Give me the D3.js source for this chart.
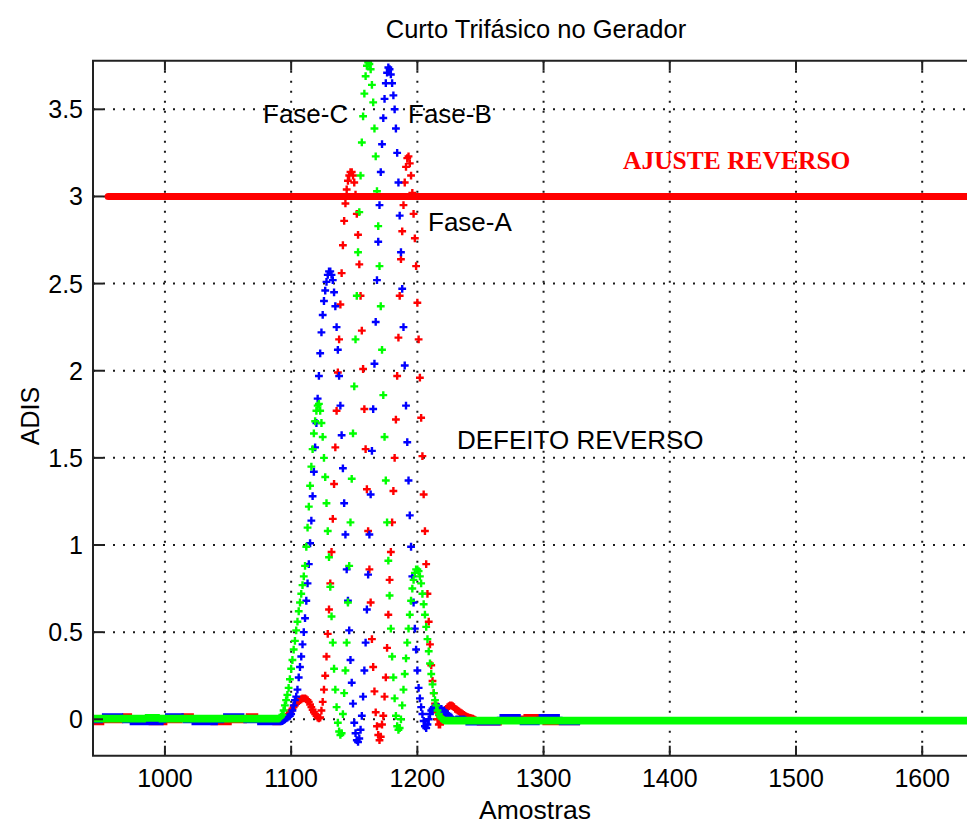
<!DOCTYPE html>
<html>
<head>
<meta charset="utf-8">
<script src="https://cdn.jsdelivr.net/npm/d3@7"></script>
<style>
  body { margin: 0; background: #fff; }
  svg text { font-family: "Liberation Sans", Arial, Helvetica, sans-serif; fill: #000; }
</style>
</head>
<body>
<svg id="grafico" width="967" height="825"></svg>
<script>
// ---- dados ----------------------------------------------------------------
const titulo = "Curto Trifásico no Gerador";
const rotuloX = "Amostras";
const rotuloY = "ADIS";
const ticksX = [1000, 1100, 1200, 1300, 1400, 1500, 1600];
const ticksY = [0, 0.5, 1, 1.5, 2, 2.5, 3, 3.5];

// limiar de ajuste reverso
const ajusteReverso = 3;
const inicioAjuste = 955;

// trechos em repouso: [amostra inicial, amostra final, valor]
const repousoAntesA = [[943, 951, -0.012], [952, 966, 0], [967, 973, 0.012], [974, 987, 0], [988, 1001, -0.012],
  [1002, 1013, 0], [1014, 1022, 0.012], [1023, 1036, 0], [1037, 1052, -0.012], [1053, 1064, 0],
  [1065, 1073, 0.012], [1074, 1085, 0], [1086, 1089, -0.012]];
const repousoAntesB = [[943, 950, 0], [951, 966, 0.012], [967, 972, 0], [973, 998, -0.012], [999, 1000, 0],
  [1001, 1014, 0.012], [1015, 1021, 0], [1022, 1041, -0.012], [1042, 1046, 0], [1047, 1062, 0.012],
  [1063, 1073, 0], [1074, 1089, -0.012]];
const repousoAntesC = [[943, 984, 0.004], [985, 995, 0.008], [996, 1089, 0.004]];

const repousoDepoisA = [[1251, 1266, -0.014], [1267, 1284, 0], [1285, 1299, 0.008], [1300, 1328, -0.012]];
const repousoDepoisB = [[1251, 1265, -0.014], [1266, 1281, 0.008], [1282, 1296, -0.012], [1297, 1312, 0.008], [1313, 1328, -0.012]];
const repousoDepoisC = [[1251, 1650, -0.008]];

// transitório do curto, uma amostra por valor a partir de 1090
const inicioTransitorio = 1090;
const faseA = [
  -0.012, -0.012, -0.01, -0.005, 0, 0.005, 0.01, 0.02, 0.03, 0.04,
  0.05, 0.06, 0.07, 0.08, 0.09, 0.10, 0.105, 0.11, 0.115, 0.12,
  0.12, 0.12, 0.115, 0.11, 0.10, 0.085, 0.07, 0.055, 0.04, 0.03,
  0.02, 0.01, 0.005, 0.01, 0.05, 0.10, 0.17, 0.25, 0.36, 0.49,
  0.63, 0.78, 0.96, 1.15, 1.35, 1.56, 1.77, 1.99, 2.18, 2.38,
  2.56, 2.72, 2.86, 2.96, 3.04, 3.09, 3.12, 3.14, 3.14, 3.12,
  3.08, 3.01, 2.90, 2.78, 2.61, 2.43, 2.23, 2.01, 1.78, 1.55,
  1.32, 1.08, 0.86, 0.67, 0.46, 0.30, 0.16, 0.04, -0.04, -0.09,
  -0.12, -0.10, -0.03, 0.02, 0.13, 0.24, 0.41, 0.60, 0.80, 0.96,
  1.13, 1.31, 1.50, 1.72, 1.97, 2.19, 2.43, 2.64, 2.80, 2.95,
  3.08, 3.17, 3.22, 3.23, 3.19, 3.12, 3.02, 2.90, 2.76, 2.60,
  2.39, 2.18, 1.96, 1.73, 1.51, 1.29, 1.08, 0.89, 0.72, 0.56,
  0.43, 0.31, 0.22, 0.15, 0.09, 0.04, 0, -0.03, -0.03, -0.01,
  0.01, 0.03, 0.045, 0.06, 0.07, 0.075, 0.08, 0.08, 0.075, 0.07,
  0.06, 0.055, 0.05, 0.045, 0.04, 0.035, 0.03, 0.025, 0.02, 0.015,
  0.012, 0.01, 0.008, 0.005, 0.003, 0, -0.005, -0.01, -0.014, -0.014,
  -0.014
];
const faseB = [
  -0.012, -0.012, -0.012, -0.01, -0.005, 0, 0.005, 0.01, 0.015, 0.02,
  0.03, 0.05, 0.08, 0.11, 0.13, 0.17, 0.24, 0.30, 0.36, 0.43,
  0.50, 0.58, 0.68, 0.78, 0.89, 1.01, 1.14, 1.28, 1.42, 1.56,
  1.70, 1.84, 1.97, 2.10, 2.22, 2.32, 2.40, 2.46, 2.51, 2.55,
  2.57, 2.57, 2.55, 2.52, 2.45, 2.37, 2.25, 2.12, 1.97, 1.80,
  1.63, 1.44, 1.24, 1.06, 0.86, 0.68, 0.51, 0.34, 0.21, 0.09,
  -0.02, -0.08, -0.12, -0.13, -0.11, -0.06, 0.02, 0.13, 0.28, 0.44,
  0.63, 0.83, 1.06, 1.29, 1.54, 1.78, 2.04, 2.28, 2.52, 2.74,
  2.95, 3.14, 3.30, 3.45, 3.56, 3.65, 3.71, 3.74, 3.73, 3.70,
  3.65, 3.58, 3.50, 3.39, 3.25, 3.08, 2.89, 2.68, 2.47, 2.25,
  2.03, 1.80, 1.59, 1.37, 1.17, 0.99, 0.82, 0.67, 0.52, 0.40,
  0.28, 0.18, 0.12, 0.07, 0.03, -0.01, -0.04, -0.05, -0.03, 0,
  0.03, 0.05, 0.06, 0.07, 0.07, 0.07, 0.07, 0.07, 0.06, 0.06,
  0.05, 0.05, 0.04, 0.03, 0.03, 0.02, 0.01, 0.01, 0, -0.005,
  -0.005, 0, 0, 0, 0, 0, 0, 0, -0.005, -0.014,
  -0.014, -0.014, -0.014, -0.014, -0.014, -0.014, -0.014, -0.014, -0.014, -0.014,
  -0.014
];
const faseC = [
  0.004, 0.008, 0.015, 0.025, 0.05, 0.08, 0.11, 0.14, 0.18, 0.23,
  0.29, 0.34, 0.40, 0.45, 0.51, 0.56, 0.62, 0.67, 0.72, 0.77,
  0.82, 0.88, 0.99, 1.10, 1.22, 1.34, 1.45, 1.55, 1.64, 1.71,
  1.77, 1.80, 1.81, 1.77, 1.70, 1.62, 1.50, 1.39, 1.24, 1.08,
  0.93, 0.76, 0.59, 0.44, 0.29, 0.17, 0.07, -0.02, -0.07, -0.09,
  -0.08, 0.03, 0.15, 0.28, 0.44, 0.67, 0.88, 1.13, 1.38, 1.64,
  1.91, 2.18, 2.43, 2.68, 2.91, 3.12, 3.31, 3.46, 3.59, 3.69,
  3.75, 3.77, 3.76, 3.73, 3.64, 3.54, 3.39, 3.23, 3.03, 2.83,
  2.60, 2.37, 2.12, 1.86, 1.62, 1.37, 1.13, 0.91, 0.71, 0.52,
  0.36, 0.24, 0.12, 0.02, -0.04, -0.06, -0.05, 0, 0.08, 0.17,
  0.26, 0.35, 0.44, 0.52, 0.60, 0.68, 0.75, 0.80, 0.84, 0.86,
  0.86, 0.85, 0.82, 0.78, 0.72, 0.66, 0.60, 0.53, 0.46, 0.39,
  0.32, 0.26, 0.20, 0.15, 0.11, 0.08, 0.05, 0.03, 0.015, 0.005,
  0, -0.005, -0.008, -0.008, -0.008, -0.008, -0.008, -0.008, -0.008, -0.008,
  -0.008, -0.008, -0.008, -0.008, -0.008, -0.008, -0.008, -0.008, -0.008, -0.008,
  -0.008, -0.008, -0.008, -0.008, -0.008, -0.008, -0.008, -0.008, -0.008, -0.008,
  -0.008
];

const fases = [
  { nome: "Fase-A", cor: "#ff0000", antes: repousoAntesA, valores: faseA, depois: repousoDepoisA },
  { nome: "Fase-B", cor: "#0000ff", antes: repousoAntesB, valores: faseB, depois: repousoDepoisB },
  { nome: "Fase-C", cor: "#00ff00", antes: repousoAntesC, valores: faseC, depois: repousoDepoisC }
];

// ---- layout ---------------------------------------------------------------
const area = { esq: 93, dir: 979, topo: 60.7, base: 755.7 };
const x = d3.scaleLinear().domain([943, 1645]).range([area.esq, area.dir]);
const y = d3.scaleLinear().domain([-0.209, 3.779]).range([area.base, area.topo]);

const svg = d3.select("#grafico");
svg.append("rect").attr("width", 967).attr("height", 825).attr("fill", "#fff");

svg.append("defs").append("clipPath").attr("id", "recorte")
  .append("rect")
  .attr("x", area.esq).attr("y", area.topo)
  .attr("width", area.dir - area.esq).attr("height", area.base - area.topo);

// grade pontilhada
const grade = svg.append("g").attr("stroke", "#1a1a1a").attr("stroke-width", 2).attr("stroke-dasharray", "2 8");
grade.selectAll("line.v").data(ticksX).join("line").attr("class", "v")
  .attr("x1", d => x(d)).attr("x2", d => x(d))
  .attr("y1", area.topo).attr("y2", area.base);
grade.selectAll("line.h").data(ticksY).join("line").attr("class", "h")
  .attr("x1", area.esq).attr("x2", area.dir)
  .attr("y1", d => y(d)).attr("y2", d => y(d));

// pontos das três fases, marcador "+" em cada amostra
function pontosDaFase(f) {
  const pts = [];
  f.antes.forEach(([a, b, v]) => { for (let n = a; n <= b; n++) pts.push([n, v]); });
  f.valores.forEach((v, i) => pts.push([inicioTransitorio + i, v]));
  f.depois.forEach(([a, b, v]) => { for (let n = a; n <= b; n++) pts.push([n, v]); });
  return pts;
}
const meio = 3.9;
const plot = svg.append("g").attr("clip-path", "url(#recorte)");
fases.forEach(f => {
  const d = pontosDaFase(f).map(([n, v]) => {
    const px = x(n), py = y(v);
    return `M${px - meio},${py}H${px + meio}M${px},${py - meio}V${py + meio}`;
  }).join("");
  plot.append("path").attr("d", d).attr("fill", "none")
    .attr("stroke", f.cor).attr("stroke-width", 2.4);
});

// linha de ajuste reverso
plot.append("line")
  .attr("x1", x(inicioAjuste)).attr("x2", x(1700))
  .attr("y1", y(ajusteReverso)).attr("y2", y(ajusteReverso))
  .attr("stroke", "#ff0000").attr("stroke-width", 7).attr("stroke-linecap", "round");

// moldura e marcas dos eixos
const eixo = svg.append("g").attr("stroke", "#222").attr("stroke-width", 2).attr("fill", "none");
eixo.append("path").attr("d", `M${area.dir + 5},${area.topo}H${area.esq}V${area.base}H${area.dir + 5}`);
ticksX.forEach(t => {
  eixo.append("line").attr("x1", x(t)).attr("x2", x(t)).attr("y1", area.base).attr("y2", area.base - 10);
  eixo.append("line").attr("x1", x(t)).attr("x2", x(t)).attr("y1", area.topo).attr("y2", area.topo + 10);
});
ticksY.forEach(t => {
  eixo.append("line").attr("x1", area.esq).attr("x2", area.esq + 10).attr("y1", y(t)).attr("y2", y(t));
});

// rótulos dos ticks
svg.append("g").selectAll("text").data(ticksX).join("text")
  .attr("x", d => x(d)).attr("y", 786.5).attr("text-anchor", "middle")
  .attr("font-size", 25).text(d => d);
svg.append("g").selectAll("text").data(ticksY).join("text")
  .attr("x", 83).attr("y", d => y(d) + 9).attr("text-anchor", "end")
  .attr("font-size", 25).text(d => String(d));

// títulos
svg.append("text").attr("x", 536).attr("y", 38).attr("text-anchor", "middle")
  .attr("font-size", 25.5).text(titulo);
svg.append("text").attr("x", 535).attr("y", 819).attr("text-anchor", "middle")
  .attr("font-size", 26.5).text(rotuloX);
svg.append("text").attr("transform", "translate(39,416) rotate(-90)").attr("text-anchor", "middle")
  .attr("font-size", 25).text(rotuloY);

// anotações
const notas = [
  { texto: "Fase-C", x: 263, y: 123 },
  { texto: "Fase-B", x: 408, y: 123 },
  { texto: "Fase-A", x: 428, y: 231 },
  { texto: "DEFEITO REVERSO", x: 457, y: 449 }
];
svg.append("g").selectAll("text").data(notas).join("text")
  .attr("x", d => d.x).attr("y", d => d.y).attr("font-size", 26).text(d => d.texto);

svg.append("text").attr("x", 623).attr("y", 169)
  .attr("font-weight", "bold").attr("font-size", 25.5)
  .style("fill", "#ff0000").style("font-family", "'Liberation Serif', 'Times New Roman', serif")
  .text("AJUSTE REVERSO");
</script>
</body>
</html>
